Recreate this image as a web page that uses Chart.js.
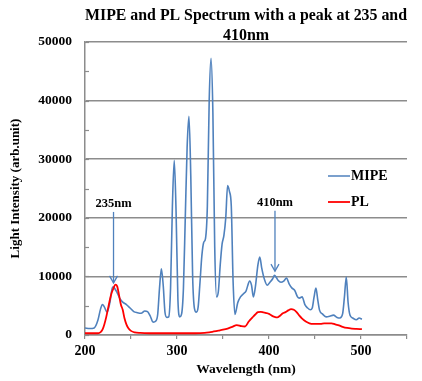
<!DOCTYPE html>
<html>
<head>
<meta charset="utf-8">
<script src="https://cdn.jsdelivr.net/npm/chart.js@4"></script>
<style>
html,body{margin:0;padding:0;background:#fff;}
#wrap{width:422px;height:381px;position:relative;}
</style>
</head>
<body>
<div id="wrap"><canvas id="c" width="422" height="381"></canvas></div>
<script>
const titleLines = ["MIPE and PL Spectrum with a peak at 235 and", "410nm"];
const xTitle = "Wavelength (nm)";
const yTitle = "Light Intensity (arb.unit)";
const seriesNames = ["MIPE", "PL"];

const mipeX = [200,205,210,214,217,219,221,224,227,230,232,235,238,241,245,249,253,257,261,265,268,271,274,277,279,281,283,285,287,289,291,293,295,297,299,301,303,305,307,309,311,313,315,317,319,321,323,325,327,329,331,333,335,337,339,341,343,345,347,349,351,353,355,357,359,361,363,366,369,372,375,379,381,383,385,388,390,392,395,398,401,404,406,408,410,413,416,419,422,425,428,431,433,436,439,442,445,447,449,451,453,455,458,462,466,470,474,477,480,482,484,486,488,491,495,498,501];
const mipeY = [1200,1100,1200,2500,4500,5200,4800,3900,5500,8200,8000,7200,6200,5600,5200,4600,4000,3800,3700,4100,4000,3200,2200,2400,3500,8000,11300,8500,3800,3000,3100,8000,22000,29800,21000,6000,3100,3600,8000,20000,32000,37300,27000,10000,4500,3900,4800,9000,13500,15800,16500,22000,40000,47200,38000,15000,6500,7500,12000,15500,17000,20000,25500,24500,22000,9000,3500,5500,6500,7000,7500,9200,8500,6500,8000,12000,13300,11500,9500,8500,9000,9600,10200,9800,9300,9000,9200,9700,8700,8000,7600,6500,6300,6500,5200,4600,4300,4600,6500,8000,6000,4200,3600,3100,3200,3400,3000,2900,3600,6500,9900,5500,3400,2900,2600,2900,2700];

const plX = [200,205,210,214,217,219,221,223,225,227,229,231,233,235,237,239,241,243,245,247,250,254,260,270,280,290,300,310,320,330,335,340,345,350,355,360,365,370,374,378,382,385,388,391,394,397,400,403,406,409,412,415,418,421,424,427,430,433,436,440,444,448,452,456,460,464,468,472,476,480,485,490,495,501];
const plY = [300,300,300,300,500,900,1800,3000,4500,6000,7200,8000,8600,8300,6800,5200,4300,2800,1800,1200,700,450,350,300,300,300,300,300,300,350,450,600,750,900,1100,1400,1700,1500,1450,2300,3000,3500,3900,3950,3850,3750,3600,3300,3100,3000,3300,3700,3900,4200,4400,4300,3900,3300,2800,2300,2000,1900,1900,1900,2000,2000,2000,1800,1650,1400,1200,1100,1050,1000];

const xTicks = {min:200, max:550, step:50, labelEvery:100};
const yTicks = {min:0, max:50000, step:10000, minor:5000};

const annotations = [
  {label:"235nm", x:231, yTop:21000, yTip:8900},
  {label:"410nm", x:406.5, yTop:21200, yTip:10900}
];

const BLUE = '#4F81BD', RED = '#FF0000', GRID = '#8c8c8c';
const SERIF = "'Liberation Serif','Times New Roman',serif";

const toPts = (xs, ys) => xs.map((x,i)=>({x:x, y:ys[i]}));

const decor = {
  id:'decor',
  afterDatasetsDraw(chart){
    const ctx = chart.ctx, xs = chart.scales.x, ys = chart.scales.y, ca = chart.chartArea;
    ctx.save();
    ctx.strokeStyle = GRID; ctx.lineWidth = 1.2;
    for(let v = yTicks.min; v <= yTicks.max; v += yTicks.minor){
      const py = Math.round(ys.getPixelForValue(v)) + 0.5;
      ctx.beginPath(); ctx.moveTo(ca.left, py); ctx.lineTo(ca.left + 4, py); ctx.stroke();
    }
    ctx.strokeStyle = BLUE; ctx.lineWidth = 1.3;
    ctx.fillStyle = '#000';
    ctx.font = "bold 12.5px " + SERIF;
    ctx.textAlign = 'center'; ctx.textBaseline = 'middle';
    annotations.forEach(a=>{
      const px = xs.getPixelForValue(a.x);
      const y1 = ys.getPixelForValue(a.yTop), y2 = ys.getPixelForValue(a.yTip);
      ctx.beginPath(); ctx.moveTo(px, y1); ctx.lineTo(px, y2); ctx.stroke();
      ctx.beginPath(); ctx.moveTo(px-4, y2-7); ctx.lineTo(px, y2); ctx.lineTo(px+4, y2-7); ctx.stroke();
      ctx.fillText(a.label, px, y1 - 8);
    });
    const lx = ca.left + 243, ly = [ca.top + 134, ca.top + 160];
    const cols = [BLUE, RED];
    ctx.font = "bold 14px " + SERIF; ctx.textAlign = 'left';
    seriesNames.forEach((n,i)=>{
      ctx.strokeStyle = cols[i]; ctx.lineWidth = i ? 1.8 : 1.5;
      ctx.beginPath(); ctx.moveTo(lx, ly[i]); ctx.lineTo(lx + 22, ly[i]); ctx.stroke();
      ctx.fillStyle = '#000';
      ctx.fillText(n, lx + 23, ly[i]);
    });
    ctx.restore();
  }
};

new Chart(document.getElementById('c'), {
  type:'line',
  data:{
    datasets:[
      {label:seriesNames[0], data:toPts(mipeX, mipeY), borderColor:BLUE, borderWidth:1.6, pointRadius:0, cubicInterpolationMode:'monotone', order:1},
      {label:seriesNames[1], data:toPts(plX, plY), borderColor:RED, borderWidth:1.8, pointRadius:0, cubicInterpolationMode:'monotone', order:0}
    ]
  },
  options:{
    responsive:false, animation:false, devicePixelRatio:1,
    layout:{padding:{left:0, right:15, top:0, bottom:0}},
    plugins:{
      legend:{display:false},
      tooltip:{enabled:false},
      title:{display:true, text:titleLines, fullSize:false, color:'#000',
        font:{family:SERIF, size:16, weight:'bold', lineHeight:'20px'},
        padding:{top:6, bottom:-4}}
    },
    scales:{
      x:{type:'linear', min:xTicks.min, max:xTicks.max,
        afterFit(s){ s.height = 46; },
        ticks:{stepSize:xTicks.step, autoSkip:false, maxRotation:0, color:'#000', padding:4,
          font:{family:SERIF, size:14, weight:'bold'},
          callback:v => (v % xTicks.labelEvery === 0 && v < xTicks.max) ? String(v) : ''},
        grid:{drawOnChartArea:false, drawTicks:true, tickLength:4, color:GRID, lineWidth:1.2},
        border:{display:true, color:GRID, width:1.5},
        title:{display:true, text:xTitle, color:'#000', font:{family:SERIF, size:13.5, weight:'bold'}, padding:{top:0, bottom:3}}
      },
      y:{min:yTicks.min, max:yTicks.max,
        afterFit(s){ s.width = 85; },
        ticks:{stepSize:yTicks.step, color:'#000', padding:13, font:{family:SERIF, size:13.5, weight:'bold'},
          callback:v => String(v)},
        grid:{drawTicks:false, color:GRID, lineWidth:1.5},
        border:{display:true, color:GRID, width:1.5},
        title:{display:true, text:yTitle, color:'#000', font:{family:SERIF, size:13, weight:'bold'}, padding:{top:8, bottom:0}}
      }
    }
  },
  plugins:[decor]
});
</script>
</body>
</html>
